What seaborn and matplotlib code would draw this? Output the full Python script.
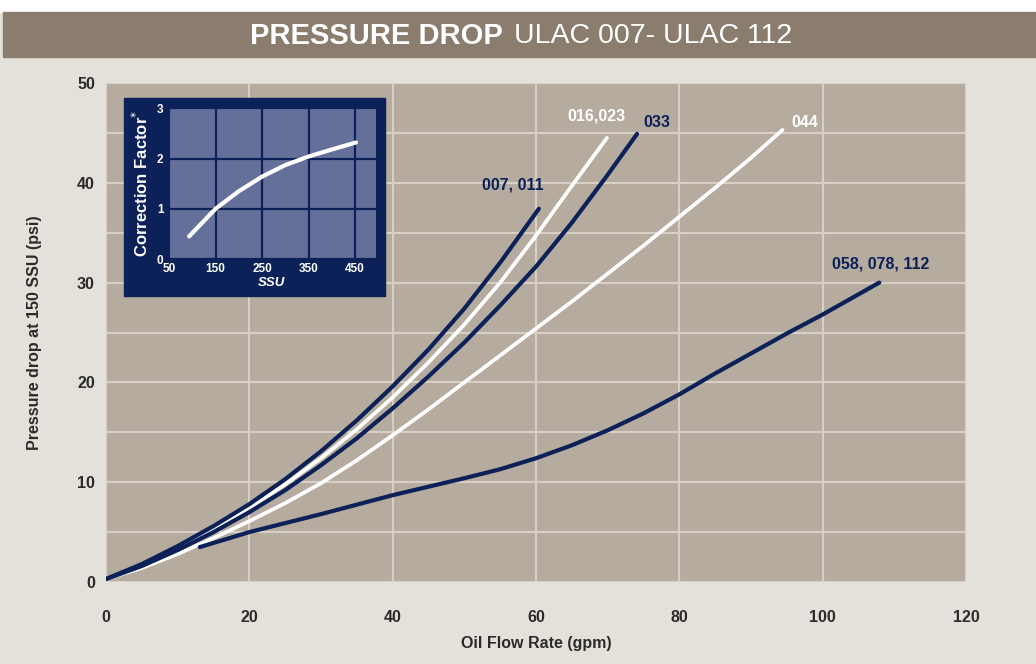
import matplotlib
matplotlib.use('Agg')
import matplotlib.pyplot as plt
import seaborn as sns
from matplotlib.patches import Rectangle

# main chart curves (gpm vs psi at 150 SSU)
x_007 = [0, 5, 10, 15, 20, 25, 30, 35, 40, 45, 50, 55, 60.4]
y_007 = [0.3, 1.8, 3.6, 5.6, 7.8, 10.3, 13.1, 16.2, 19.6, 23.3, 27.4, 32.0, 37.4]

x_016 = [0, 5, 10, 15, 20, 25, 30, 35, 40, 45, 50, 55, 60, 65, 69.9]
y_016 = [0.3, 1.7, 3.4, 5.3, 7.4, 9.8, 12.4, 15.3, 18.5, 22.0, 25.8, 30.0, 34.7, 39.7, 44.5]

x_033 = [0, 5, 10, 15, 20, 25, 30, 35, 40, 45, 50, 55, 60, 65, 70, 74.1]
y_033 = [0.3, 1.6, 3.2, 5.0, 7.0, 9.2, 11.7, 14.4, 17.4, 20.6, 24.0, 27.7, 31.6, 36.0, 40.8, 44.9]

x_044 = [0, 5, 10, 15, 20, 25, 30, 35, 40, 45, 50, 55, 60, 65, 70, 75, 80, 85, 90, 94.4]
y_044 = [0.3, 1.4, 2.8, 4.4, 6.1, 7.9, 9.9, 12.2, 14.7, 17.3, 20.0, 22.7, 25.4, 28.1, 30.9, 33.7, 36.6, 39.5, 42.5, 45.3]

x_058 = [13.1, 20, 30, 40, 50, 55, 60, 65, 70, 75, 80, 85, 90, 95, 100, 107.9]
y_058 = [3.5, 5.0, 6.8, 8.7, 10.4, 11.3, 12.4, 13.7, 15.2, 16.9, 18.8, 20.9, 22.9, 24.9, 26.8, 30.0]

# inset: correction factor vs viscosity
ssu = [93, 150, 200, 250, 300, 350, 400, 452]
factor = [0.45, 1.0, 1.35, 1.64, 1.87, 2.04, 2.18, 2.32]

labels = ['007, 011', '016,023', '033', '044', '058, 078, 112']
label_pos = [(56.8, 39.8), (68.4, 46.7), (76.9, 46.0), (97.5, 46.0), (108.1, 31.9)]

navy = '#0b2157'
white = '#ffffff'
colors = [navy, white, navy, white, navy]
ink = '#2b2b2b'

sns.set_style('white')
plt.rcParams['font.family'] = ['Liberation Sans', 'DejaVu Sans']

fig = plt.figure(figsize=(10.36, 6.64), dpi=100, facecolor='#e4e0da')

# white strip + title band
fig.patches.append(Rectangle((0, 1 - 12 / 664), 1, 12 / 664, transform=fig.transFigure,
                             color='white', zorder=0))
fig.patches.append(Rectangle((3 / 1036, 1 - 57 / 664), 1, 45 / 664, transform=fig.transFigure,
                             color='#8a7d6e', zorder=0))
fig.text(503 / 1036, 1 - 36 / 664, 'PRESSURE DROP', color='white', fontsize=21,
         fontweight='bold', ha='right', va='center')
fig.text(514 / 1036, 1 - 36 / 664, 'ULAC 007- ULAC 112', color='white', fontsize=20.5,
         ha='left', va='center')

ax = fig.add_axes([106 / 1036, 1 - 582 / 664, 860 / 1036, 499 / 664])
ax.set_facecolor('#b5ab9f')
for s in ax.spines.values():
    s.set_visible(False)
ax.set_xlim(0, 120)
ax.set_ylim(0, 50)
ax.set_xticks(range(0, 121, 20))
ax.set_yticks(range(0, 51, 10))
ax.set_yticks(range(0, 51, 5), minor=True)
ax.grid(True, which='both', color='#d8d0c6', lw=1.5)
ax.set_axisbelow(True)
ax.tick_params(axis='both', length=0, labelsize=11.5, labelcolor=ink)
ax.tick_params(axis='x', pad=20)
ax.tick_params(axis='y', pad=8)
for t in ax.get_xticklabels() + ax.get_yticklabels():
    t.set_fontweight('bold')
ax.set_xlabel('Oil Flow Rate (gpm)', fontsize=11.5, fontweight='bold', color=ink)
ax.set_ylabel('Pressure drop at 150 SSU (psi)', fontsize=11.5, fontweight='bold', color=ink)
ax.xaxis.set_label_coords(0.5, -0.108)
ax.yaxis.set_label_coords(-0.074, 0.5)

# whites under navies
sns.lineplot(x=x_044, y=y_044, ax=ax, color=white, lw=2.7, solid_capstyle='round', sort=False)
sns.lineplot(x=x_016, y=y_016, ax=ax, color=white, lw=2.7, solid_capstyle='round', sort=False)
sns.lineplot(x=x_058, y=y_058, ax=ax, color=navy, lw=3.0, solid_capstyle='round', sort=False)
sns.lineplot(x=x_033, y=y_033, ax=ax, color=navy, lw=3.0, solid_capstyle='round', sort=False)
sns.lineplot(x=x_007, y=y_007, ax=ax, color=navy, lw=3.0, solid_capstyle='round', sort=False)

for lab, (lx, ly), c in zip(labels, label_pos, colors):
    ax.text(lx, ly, lab, color=c, fontsize=11.5, fontweight='bold', ha='center', va='center')

# inset box
fig.patches.append(Rectangle((124 / 1036, 1 - 296 / 664), 261 / 1036, 198 / 664,
                             transform=fig.transFigure, color=navy, zorder=1))
ins = fig.add_axes([167.7 / 1036, 1 - 259 / 664, 208.3 / 1036, 150.7 / 664])
ins.set_zorder(3)
ins.set_facecolor('#65709a')
for s in ins.spines.values():
    s.set_visible(False)
ins.set_xlim(47, 495)
ins.set_ylim(0, 3)
ins.set_xticks([50, 150, 250, 350, 450])
ins.set_yticks([0, 1, 2, 3])
ins.grid(True, color=navy, lw=1.6)
ins.set_axisbelow(True)
ins.tick_params(axis='both', length=0, labelsize=8.5, labelcolor='white', pad=3)
for t in ins.get_xticklabels() + ins.get_yticklabels():
    t.set_fontweight('bold')
sns.lineplot(x=ssu, y=factor, ax=ins, color='white', lw=3.0, solid_capstyle='round', sort=False)
ins.set_xlabel('SSU', fontsize=9.5, fontweight='bold', fontstyle='italic', color='white', labelpad=1)
ins.set_ylabel('Correction Factor$^{*}$', fontsize=12, fontweight='bold', color='white', labelpad=4)

fig.savefig('out.png', dpi=100, facecolor=fig.get_facecolor())
